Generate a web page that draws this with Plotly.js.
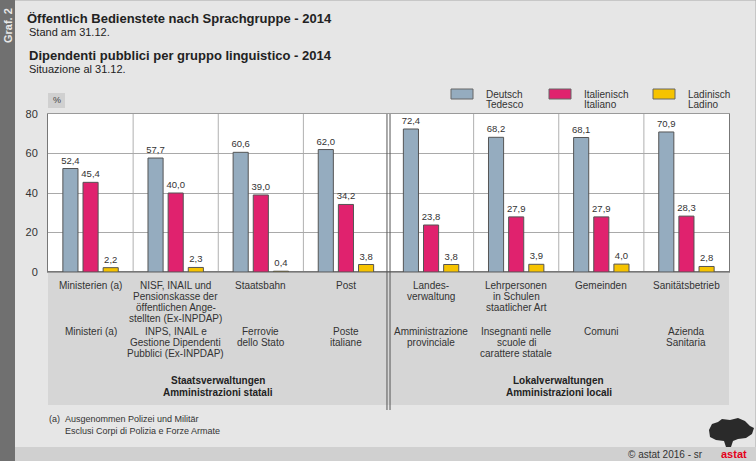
<!DOCTYPE html>
<html>
<head>
<meta charset="utf-8">
<script src="https://cdn.plot.ly/plotly-3.0.1.min.js"></script>
<style>html,body{margin:0;padding:0;background:#e6e6e6;}#chart{width:756px;height:461px;}</style>
</head>
<body>
<div id="chart"></div>
<script>
// ---------- data ----------
const catDe = ["Ministerien (a)", "NISF, INAIL und<br>Pensionskasse der<br>öffentlichen Ange-<br>stellten (Ex-INPDAP)", "Staatsbahn", "Post",
               "Landes-<br>verwaltung", "Lehrpersonen<br>in Schulen<br>staatlicher Art", "Gemeinden", "Sanitätsbetrieb"];
const catIt = ["Ministeri (a)", "INPS, INAIL e<br>Gestione Dipendenti<br>Pubblici (Ex-INPDAP)", "Ferrovie<br>dello Stato", "Poste<br>italiane",
               "Amministrazione<br>provinciale", "Insegnanti nelle<br>scuole di<br>carattere statale", "Comuni", "Azienda<br>Sanitaria"];
const deutsch   = [52.4, 57.7, 60.6, 62.0, 72.4, 68.2, 68.1, 70.9];
const italienisch = [45.4, 40.0, 39.0, 34.2, 23.8, 27.9, 27.9, 28.3];
const ladinisch = [2.2, 2.3, 0.4, 3.8, 3.8, 3.9, 4.0, 2.8];
const seriesNames = ["Deutsch<br>Tedesco", "Italienisch<br>Italiano", "Ladinisch<br>Ladino"];
const groupLabels = ["Staatsverwaltungen<br>Amministrazioni statali", "Lokalverwaltungen<br>Amministrazioni locali"];
const yTicks = [0, 20, 40, 60, 80];

// ---------- styling / geometry ----------
const colors = ["#95acbf", "#e0226e", "#f6c300"];
const W = 756, H = 461, L = 48, R = 729, T = 114, B = 272;
const xp = px => (px - L) / (R - L);
const yp = py => (B - py) / (B - T);
const FONT = "Liberation Sans, Arial, sans-serif";

const vals = [deutsch, italienisch, ladinisch];
const traces = vals.map((v, i) => ({
  type: "bar", x: catDe, y: v, name: seriesNames[i].replace("<br>", " / "),
  marker: {color: colors[i], line: {color: "#555", width: 1}},
  texttemplate: "%{y:.1f}", textposition: "outside", constraintext: "none",
  textfont: {size: 9.5, color: "#333", family: FONT},
  cliponaxis: false, hoverinfo: "x+y", showlegend: false
}));

const shapes = [];
const annotations = [];
function rectPx(x0, y0, x1, y1, fill, line, layer) {
  shapes.push({type: "rect", xref: "paper", yref: "paper", x0: xp(x0), x1: xp(x1), y0: yp(y1), y1: yp(y0),
    fillcolor: fill, line: line || {width: 0}, layer: layer || "below"});
}
function textPx(x, y, text, opts) {
  annotations.push(Object.assign({xref: "paper", yref: "paper", x: xp(x), y: yp(y), text: text, showarrow: false,
    xanchor: "left", yanchor: "middle", font: {family: FONT, size: 11, color: "#222"}}, opts || {}));
}
// multi-line text placed line by line with a fixed line pitch (px)
function linesAt(xref, x, yFirst, pitch, text, font, xanchor) {
  text.split("<br>").forEach((ln, k) => {
    annotations.push({xref: xref, yref: "paper", x: x, y: yp(yFirst + k * pitch), yanchor: "middle",
      xanchor: xanchor || "center", showarrow: false, text: ln, font: font});
  });
}

// background elements
rectPx(0, 0, 756, 461, "rgba(0,0,0,0)", {color: "#a8a8a8", width: 1}, "below");
rectPx(15, 447, 756, 461, "#d0d0d0");
rectPx(0, 0, 15, 461, "#707070");
rectPx(L, B, R, 405, "#d6d6d6");
rectPx(48, 93, 65, 108, "#d0d0d0");

// category separators
for (let i = 0; i < catDe.length - 1; i++) {
  if (i === 3) continue;
  shapes.push({type: "line", xref: "x", yref: "paper", x0: i + 0.5, x1: i + 0.5, y0: 0, y1: 1,
    line: {color: "#b0b0b0", width: 1}, layer: "below"});
}
[-0.018, 0.018].forEach(d => shapes.push({type: "line", xref: "x", yref: "paper", x0: 3.5 + d, x1: 3.5 + d,
  y0: yp(410), y1: 1, line: {color: "#555", width: 1}, layer: "above"}));

// category labels
const catFont = {family: FONT, size: 10, color: "#333"};
catDe.forEach((c, i) => {
  linesAt("x", i, 285, 11, c, catFont);
  linesAt("x", i, 331, 11, catIt[i], catFont);
});
const grpFont = {family: FONT, size: 10, color: "#222", weight: "bold"};
linesAt("x", 1.5, 380, 12, groupLabels[0], grpFont);
linesAt("x", 5.5, 380, 12, groupLabels[1], grpFont);

// legend (custom)
const legX = [451, 549, 653];
seriesNames.forEach((n, i) => {
  rectPx(legX[i], 89, legX[i] + 22, 99, colors[i], {color: "#666", width: 1}, "above");
  linesAt("paper", xp(legX[i] + 33), 94, 10.5, n, {family: FONT, size: 10, color: "#333"}, "left");
});

// titles
textPx(27, 32, "Stand am 31.12.", {font: {family: FONT, size: 11, color: "#222"}});
textPx(27, 55, "<b>Dipendenti pubblici per gruppo linguistico - 2014</b>", {font: {family: FONT, size: 13, color: "#222"}});
textPx(27, 69, "Situazione al 31.12.", {font: {family: FONT, size: 11, color: "#222"}});
textPx(56.5, 100, "%", {xanchor: "center", font: {family: FONT, size: 9, color: "#444"}});
textPx(8, 26, "<b>Graf. 2</b>", {xanchor: "center", textangle: -90, font: {family: FONT, size: 11, color: "#e8e8e8"}});

// footnote
textPx(47, 419, "(a)", {font: {family: FONT, size: 9, color: "#333"}});
textPx(63, 419, "Ausgenommen Polizei und Militär", {font: {family: FONT, size: 9, color: "#333"}});
textPx(63, 431, "Esclusi Corpi di Polizia e Forze Armate", {font: {family: FONT, size: 9, color: "#333"}});
textPx(705, 454, "© astat 2016 - sr", {xanchor: "right", font: {family: FONT, size: 10, color: "#333"}});
textPx(734, 454, "<b>astat</b>", {xanchor: "center", font: {family: FONT, size: 11, color: "#e3001b"}});

// logo silhouette
const logoPts = [[709,430],[712,424],[718,422],[722,419],[730,420],[738,418],[745,421],[750,426],[754,428],[752,434],
  [746,438],[738,439],[733,441],[731,447],[726,447],[724,441],[716,440],[710,437]];
shapes.push({type: "path", xref: "paper", yref: "paper",
  path: "M" + logoPts.map(p => xp(p[0]).toFixed(5) + "," + yp(p[1]).toFixed(5)).join(" L") + " Z",
  fillcolor: "#2a2a2a", line: {width: 0}, layer: "above"});

const layout = {
  width: W, height: H,
  margin: {l: L, r: W - R, t: T, b: H - B, pad: 0},
  separators: ",.",
  paper_bgcolor: "#e6e6e6", plot_bgcolor: "#ffffff",
  title: {text: "<b>Öffentlich Bedienstete nach Sprachgruppe - 2014</b>", xref: "container", yref: "container",
    x: 27 / W, xanchor: "left", y: 1 - 18 / H, yanchor: "middle", font: {family: FONT, size: 13, color: "#222"}},
  barmode: "group", bargap: 0.29, bargroupgap: 0.25,
  font: {family: FONT, color: "#333"},
  xaxis: {type: "category", range: [-0.5, 7.5], showticklabels: false, ticks: "", showgrid: false,
    showline: true, mirror: true, linecolor: "#9a9a9a", linewidth: 1, fixedrange: true},
  yaxis: {range: [0, 80], tickvals: yTicks, ticks: "outside", ticklen: 7, tickcolor: "rgba(0,0,0,0)",
    tickfont: {size: 11, color: "#333", family: FONT}, gridcolor: "#a9a9a9", gridwidth: 1,
    showline: true, linecolor: "#777", linewidth: 1, mirror: true,
    zeroline: true, zerolinecolor: "#777", zerolinewidth: 1.5, fixedrange: true},
  shapes: shapes, annotations: annotations, showlegend: false
};

Plotly.newPlot("chart", traces, layout, {displayModeBar: false, staticPlot: true});
</script>
</body>
</html>
